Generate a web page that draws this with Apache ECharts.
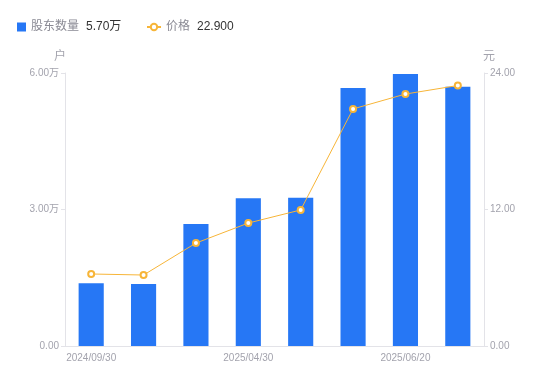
<!DOCTYPE html>
<html><head><meta charset="utf-8">
<script src="https://cdn.jsdelivr.net/npm/echarts@6/dist/echarts.min.js"></script>
<style>html,body{margin:0;padding:0;background:#fff}#c{width:550px;height:381px}</style>
</head><body><div id="c"></div>
<script>
const categories = ['2024/09/30','2024/12/31','2025/03/31','2025/04/30','2025/05/20','2025/05/31','2025/06/20','2025/06/30'];
const holders = [1.38, 1.36, 2.68, 3.25, 3.26, 5.67, 5.98, 5.70];
const prices = [6.33, 6.24, 9.05, 10.81, 11.96, 20.84, 22.15, 22.90];
const leftTicks = [0, 3, 6];
const rightTicks = [0, 12, 24];

const chart = echarts.init(document.getElementById('c'));
const font = 'Liberation Sans, Noto Sans CJK SC, sans-serif';
const lastVals = {'股东数量': holders[holders.length-1].toFixed(2) + '万', '价格': prices[prices.length-1].toFixed(3)};
const legendText = {rich: {
  n: {color: '#8a8a94', fontSize: 12, fontFamily: font, padding: [0, 7, 0, 0]},
  v: {color: '#333', fontSize: 12, fontFamily: font}
}};
chart.setOption({
  animation: false,
  textStyle: {fontFamily: font},
  legend: [{
    left: 12, top: 16, itemWidth: 9, itemHeight: 9,
    data: [{name: '股东数量', icon: 'rect'}],
    formatter: n => `{n|${n}}{v|${lastVals[n]}}`,
    textStyle: legendText
  }, {
    left: 141, top: 16, itemWidth: 14, itemHeight: 8,
    data: [{name: '价格'}],
    formatter: n => `{n|${n}}{v|${lastVals[n]}}`,
    textStyle: legendText
  }],
  grid: {left: 65, right: 66, top: 73, bottom: 35},
  xAxis: {
    type: 'category', data: categories,
    axisLine: {lineStyle: {color: '#e3e3e8'}},
    axisTick: {show: false},
    axisLabel: {interval: 2, color: '#a3a3ad', fontSize: 10, margin: 7}
  },
  yAxis: [{
    type: 'value', min: 0, max: 6, interval: 3, name: '户',
    nameTextStyle: {color: '#a3a3ad', fontSize: 12, padding: [0, 10, 0, 0]},
    nameGap: 10,
    axisLine: {show: true, lineStyle: {color: '#e3e3e8'}},
    axisTick: {show: true, length: 4, lineStyle: {color: '#e3e3e8'}},
    splitLine: {show: false},
    axisLabel: {color: '#a3a3ad', fontSize: 10, margin: 6, formatter: v => v === 0 ? '0.00' : v.toFixed(2) + '万'}
  }, {
    type: 'value', min: 0, max: 24, interval: 12, name: '元',
    nameTextStyle: {color: '#a3a3ad', fontSize: 12, padding: [0, 0, 0, 10]},
    nameGap: 10,
    axisLine: {show: true, lineStyle: {color: '#e3e3e8'}},
    axisTick: {show: true, length: 4, lineStyle: {color: '#e3e3e8'}},
    splitLine: {show: false},
    axisLabel: {color: '#a3a3ad', fontSize: 10, margin: 6, formatter: v => v.toFixed(2)}
  }],
  series: [{
    name: '股东数量', type: 'bar', data: holders, barWidth: '48%',
    itemStyle: {color: '#2677f5'}
  }, {
    name: '价格', type: 'line', yAxisIndex: 1, data: prices,
    symbol: 'emptyCircle', symbolSize: 6,
    lineStyle: {color: '#f7b538', width: 1},
    itemStyle: {color: '#f7b538', borderWidth: 1.5}
  }]
});
</script></body></html>
